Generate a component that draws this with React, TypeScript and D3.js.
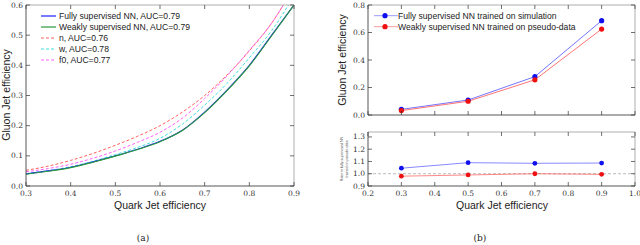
import React from 'react';
import * as d3 from 'd3';

// ROC curves, panel (a)
const rocX = [0.3, 0.35, 0.4, 0.45, 0.5, 0.55, 0.6, 0.65, 0.7, 0.75, 0.8, 0.85, 0.9];
const rocFully = [0.04, 0.05, 0.062, 0.08, 0.1, 0.122, 0.148, 0.185, 0.245, 0.318, 0.4, 0.5, 0.6];
const rocWeak = [0.039, 0.049, 0.061, 0.079, 0.099, 0.121, 0.147, 0.184, 0.243, 0.316, 0.398, 0.498, 0.6];
const rocN = [0.052, 0.066, 0.085, 0.108, 0.135, 0.165, 0.2, 0.245, 0.3, 0.368, 0.448, 0.54, 0.66];
const rocW = [0.041, 0.051, 0.064, 0.082, 0.104, 0.128, 0.158, 0.205, 0.268, 0.34, 0.425, 0.515, 0.63];
const rocF0 = [0.047, 0.058, 0.072, 0.092, 0.116, 0.145, 0.178, 0.225, 0.29, 0.365, 0.45, 0.54, 0.66];

const rocSeries = [
  { name: 'Fully supervised NN, AUC=0.79', values: rocFully, color: '#2020ff', dash: null },
  { name: 'Weakly supervised NN, AUC=0.79', values: rocWeak, color: '#2a9a3a', dash: null },
  { name: 'n, AUC=0.76', values: rocN, color: '#ff6060', dash: '3,2' },
  { name: 'w, AUC=0.78', values: rocW, color: '#40dede', dash: '3,2' },
  { name: 'f0, AUC=0.77', values: rocF0, color: '#ff60ff', dash: '3,2' },
];
// draw order: dashed first, then fully, then weakly on top
const drawOrder = [2, 3, 4, 0, 1];

// working points, panel (b)
const wpX = [0.3, 0.5, 0.7, 0.9];
const wpFully = [0.041, 0.109, 0.279, 0.686];
const wpWeak = [0.032, 0.1, 0.256, 0.625];
const ratioFully = [1.045, 1.09, 1.085, 1.087];
const ratioWeak = [0.98, 0.99, 1.0, 0.995];

const tickFont = 'DejaVu Serif, serif';
const labelFont = 'Liberation Sans, Arial, sans-serif';

function Frame({ x, y, w, h }: { x: number; y: number; w: number; h: number }) {
  return (
    <g>
      <line x1={x} y1={y} x2={x + w} y2={y} stroke="#999" strokeWidth={0.8} />
      <line x1={x + w} y1={y} x2={x + w} y2={y + h} stroke="#999" strokeWidth={0.8} />
      <line x1={x} y1={y} x2={x} y2={y + h} stroke="#444" strokeWidth={0.9} />
      <line x1={x} y1={y + h} x2={x + w} y2={y + h} stroke="#444" strokeWidth={0.9} />
    </g>
  );
}

export default function App() {
  // panel (a)
  const ax = d3.scaleLinear().domain([0.3, 0.9]).range([26, 294]);
  const ay = d3.scaleLinear().domain([0, 0.6]).range([186, 5]);
  const aLine = (vals: number[]) =>
    d3.line<number>().x((_, i) => ax(rocX[i])).y((d) => ay(d)).curve(d3.curveMonotoneX)(vals) || '';

  // panel (b) top
  const bx = d3.scaleLinear().domain([0.2, 1.0]).range([368, 635]);
  const by = d3.scaleLinear().domain([0, 0.8]).range([115, 5]);
  const bLine = (vals: number[]) => d3.line<number>().x((_, i) => bx(wpX[i])).y((d) => by(d))(vals) || '';
  // panel (b) ratio
  const ry = d3.scaleLinear().domain([0.9, 1.34]).range([186, 132]);
  const rLine = (vals: number[]) => d3.line<number>().x((_, i) => bx(wpX[i])).y((d) => ry(d))(vals) || '';

  const aXt = d3.range(0.3, 0.901, 0.1);
  const aYt = d3.range(0, 0.601, 0.1);
  const bXt = d3.range(0.2, 1.001, 0.1);
  const bYt = d3.range(0, 0.801, 0.2);
  const rYt = d3.range(0.9, 1.301, 0.1);
  const tl = 4;

  return (
    <svg width={640} height={245} style={{ position: 'absolute', left: 0, top: 0, background: '#fff' }}>
      <defs>
        <clipPath id="clipA">
          <rect x={26} y={5} width={268} height={181} />
        </clipPath>
      </defs>

      {/* ---------- panel (a) ---------- */}
      <g clipPath="url(#clipA)">
        {drawOrder.map((k) => {
          const s = rocSeries[k];
          return (
            <path key={s.name} d={aLine(s.values)} fill="none" stroke={s.color}
              strokeWidth={s.dash ? 1 : 1.1} strokeDasharray={s.dash || undefined} />
          );
        })}
      </g>
      <Frame x={26} y={5} w={268} h={181} />
      {aXt.map((t) => (
        <g key={'ax' + t}>
          <line x1={ax(t)} x2={ax(t)} y1={186} y2={186 - tl} stroke="#333" strokeWidth={0.7} />
          <line x1={ax(t)} x2={ax(t)} y1={5} y2={5 + tl} stroke="#333" strokeWidth={0.7} />
          <text x={ax(t)} y={196} textAnchor="middle" fontFamily={tickFont} fontSize={7.5} fill="#333">{t.toFixed(1)}</text>
        </g>
      ))}
      {aYt.map((t) => (
        <g key={'ay' + t}>
          <line x1={26} x2={26 + tl} y1={ay(t)} y2={ay(t)} stroke="#333" strokeWidth={0.7} />
          <line x1={294} x2={294 - tl} y1={ay(t)} y2={ay(t)} stroke="#333" strokeWidth={0.7} />
          <text x={23} y={ay(t) + 2.5} textAnchor="end" fontFamily={tickFont} fontSize={7.5} fill="#333">{t.toFixed(1)}</text>
        </g>
      ))}
      {rocSeries.map((s, i) => (
        <g key={'lg' + s.name}>
          <line x1={41} x2={56} y1={16 + i * 11} y2={16 + i * 11} stroke={s.color}
            strokeWidth={s.dash ? 1 : 1.2} strokeDasharray={s.dash || undefined} />
          <text x={59} y={19 + i * 11} fontFamily={labelFont} fontSize={8.6} fill="#222">{s.name}</text>
        </g>
      ))}
      <text x={160} y={209} textAnchor="middle" fontFamily={labelFont} fontSize={10.5} fill="#222">Quark Jet efficiency</text>
      <text transform="translate(10,95) rotate(-90)" textAnchor="middle" fontFamily={labelFont} fontSize={10.5} fill="#222">Gluon Jet efficiency</text>
      <text x={143} y={241} textAnchor="middle" fontFamily={tickFont} fontSize={9} fill="#222">(a)</text>

      {/* ---------- panel (b) top ---------- */}
      <path d={bLine(wpFully)} fill="none" stroke="#3a3aff" strokeOpacity={0.7} strokeWidth={1} />
      <path d={bLine(wpWeak)} fill="none" stroke="#ff3a3a" strokeOpacity={0.7} strokeWidth={1} />
      {wpX.map((x, i) => (
        <g key={'bp' + x}>
          <circle cx={bx(x)} cy={by(wpFully[i])} r={2.6} fill="#1010ee" />
          <circle cx={bx(x)} cy={by(wpWeak[i])} r={2.6} fill="#ee1010" />
        </g>
      ))}
      <Frame x={368} y={5} w={267} h={110} />
      {bXt.map((t) => (
        <g key={'bx' + t}>
          <line x1={bx(t)} x2={bx(t)} y1={115} y2={115 - tl} stroke="#333" strokeWidth={0.7} />
          <line x1={bx(t)} x2={bx(t)} y1={5} y2={5 + tl} stroke="#333" strokeWidth={0.7} />
        </g>
      ))}
      {bYt.map((t) => (
        <g key={'by' + t}>
          <line x1={368} x2={368 + tl} y1={by(t)} y2={by(t)} stroke="#333" strokeWidth={0.7} />
          <line x1={635} x2={635 - tl} y1={by(t)} y2={by(t)} stroke="#333" strokeWidth={0.7} />
          <text x={365} y={by(t) + 2.5} textAnchor="end" fontFamily={tickFont} fontSize={7.5} fill="#333">{t.toFixed(1)}</text>
        </g>
      ))}
      <line x1={374} x2={398} y1={15.7} y2={15.7} stroke="#3a3aff" strokeOpacity={0.5} strokeWidth={1} />
      <circle cx={385} cy={15.7} r={2.6} fill="#1010ee" />
      <text x={398} y={18.7} fontFamily={labelFont} fontSize={8.6} fill="#222">Fully supervised NN trained on simulation</text>
      <line x1={374} x2={398} y1={26.7} y2={26.7} stroke="#ff3a3a" strokeOpacity={0.5} strokeWidth={1} />
      <circle cx={385} cy={26.7} r={2.6} fill="#ee1010" />
      <text x={398} y={29.7} fontFamily={labelFont} fontSize={8.6} fill="#222">Weakly supervised NN trained on pseudo-data</text>
      <text transform="translate(346,60) rotate(-90)" textAnchor="middle" fontFamily={labelFont} fontSize={10.5} fill="#222">Gluon Jet efficiency</text>

      {/* ---------- panel (b) ratio ---------- */}
      <line x1={368} x2={635} y1={ry(1)} y2={ry(1)} stroke="#aaa" strokeWidth={0.8} strokeDasharray="3,2" />
      <path d={rLine(ratioFully)} fill="none" stroke="#3a3aff" strokeOpacity={0.6} strokeWidth={1} />
      <path d={rLine(ratioWeak)} fill="none" stroke="#ff3a3a" strokeOpacity={0.6} strokeWidth={1} />
      {wpX.map((x, i) => (
        <g key={'rp' + x}>
          <circle cx={bx(x)} cy={ry(ratioFully[i])} r={2.4} fill="#1010ee" />
          <circle cx={bx(x)} cy={ry(ratioWeak[i])} r={2.4} fill="#ee1010" />
        </g>
      ))}
      <Frame x={368} y={132} w={267} h={54} />
      {bXt.map((t) => (
        <g key={'rx' + t}>
          <line x1={bx(t)} x2={bx(t)} y1={186} y2={186 - tl} stroke="#333" strokeWidth={0.7} />
          <line x1={bx(t)} x2={bx(t)} y1={132} y2={132 + tl} stroke="#333" strokeWidth={0.7} />
          <text x={bx(t)} y={196} textAnchor="middle" fontFamily={tickFont} fontSize={7.5} fill="#333">{t.toFixed(1)}</text>
        </g>
      ))}
      {rYt.map((t) => (
        <g key={'ry' + t}>
          <line x1={368} x2={368 + tl} y1={ry(t)} y2={ry(t)} stroke="#333" strokeWidth={0.7} />
          <line x1={635} x2={635 - tl} y1={ry(t)} y2={ry(t)} stroke="#333" strokeWidth={0.7} />
          <text x={365} y={ry(t) + 2.5} textAnchor="end" fontFamily={tickFont} fontSize={7.5} fill="#333">{t.toFixed(1)}</text>
        </g>
      ))}
      <text transform="translate(343,159) rotate(-90)" textAnchor="middle" fontFamily={labelFont} fontSize={3.6} fill="#444">Ratio to fully supervised NN</text>
      <text transform="translate(347.5,159) rotate(-90)" textAnchor="middle" fontFamily={labelFont} fontSize={3.6} fill="#444">trained on pseudo-data</text>
      <text x={502} y={209} textAnchor="middle" fontFamily={labelFont} fontSize={10.5} fill="#222">Quark Jet efficiency</text>
      <text x={480} y={241} textAnchor="middle" fontFamily={tickFont} fontSize={9} fill="#222">(b)</text>
    </svg>
  );
}
